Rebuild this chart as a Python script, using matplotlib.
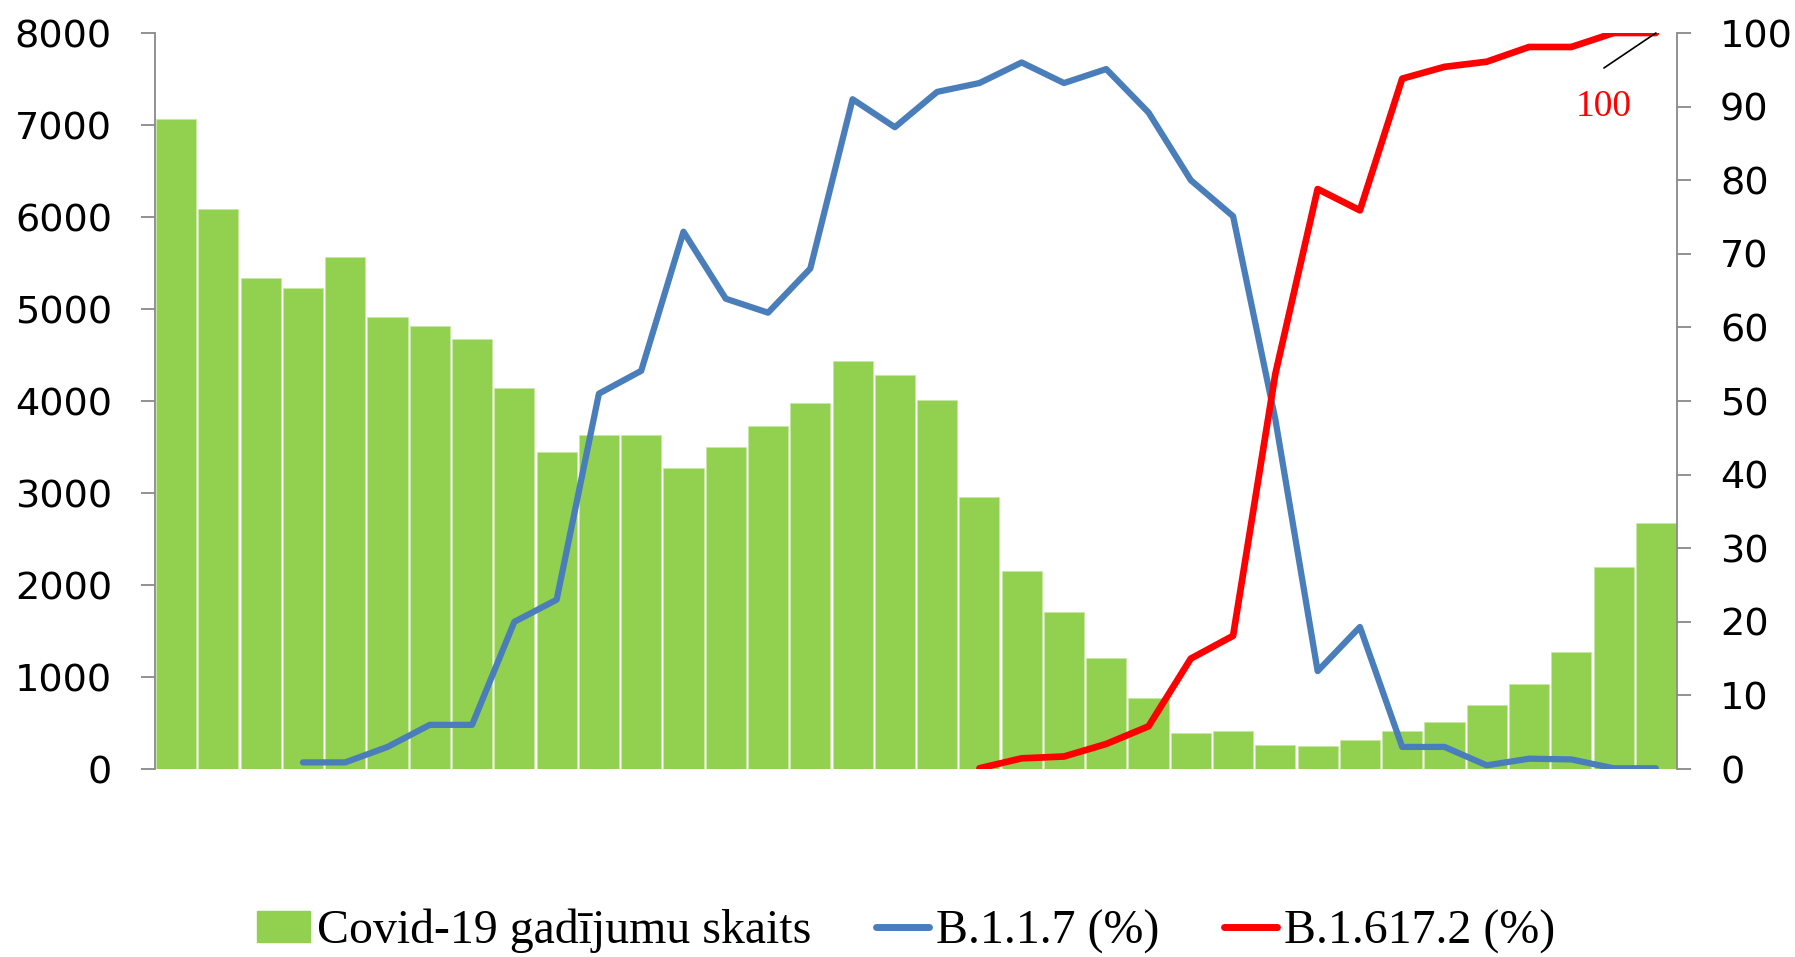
import numpy as np
import matplotlib
matplotlib.use('Agg')
import matplotlib.pyplot as plt
from matplotlib.patches import Patch
from matplotlib.lines import Line2D

nan = np.nan

# weekly Covid-19 cases (left axis)
cases = [7070, 6090, 5340, 5230, 5560, 4910, 4810, 4670, 4140, 3450,
         3630, 3630, 3270, 3500, 3730, 3980, 4430, 4280, 4010, 2960,
         2150, 1710, 1210, 770, 390, 410, 260, 250, 320, 410,
         510, 700, 920, 1270, 2200, 2670]

# variant shares in % (right axis)
b117 = [nan, nan, nan, 0.9, 0.9, 3.0, 6.0, 6.0, 20.0, 23.0,
        51.0, 54.1, 73.0, 63.9, 62.0, 68.0, 91.0, 87.2, 92.0, 93.2,
        96.0, 93.2, 95.1, 89.2, 80.0, 75.1, 47.5, 13.3, 19.3, 3.0,
        3.0, 0.5, 1.4, 1.3, 0.1, 0.1]
b16172 = [nan] * 19 + [0.1, 1.45, 1.7, 3.4, 5.8, 15.0, 18.1, 53.7, 78.8, 75.9,
                       93.8, 95.4, 96.1, 98.1, 98.1, 100.0, 100.0]

label_cases = 'Covid-19 gadījumu skaits'
label_b117 = 'B.1.1.7 (%)'
label_b16172 = 'B.1.617.2 (%)'

green = '#92D050'
blue = '#4A7EBB'
red = '#FF0000'
grey = '#898989'
serif = ['Liberation Serif', 'DejaVu Serif']

x = np.arange(len(cases))

fig = plt.figure(figsize=(17.95, 9.57), dpi=100)
ax = fig.add_axes([155 / 1795, 188 / 957, 1522 / 1795, 736 / 957])

ax.bar(x, cases, width=0.95, color=green, edgecolor='#c8e6a4', linewidth=0.6, zorder=1)
ax.set_xlim(-0.5, len(cases) - 0.5)
ax.set_ylim(0, 8000)
ax.set_yticks(np.arange(0, 8001, 1000))
ax.set_xticks([])
for s in ['top', 'bottom', 'right']:
    ax.spines[s].set_visible(False)
ax.spines['left'].set_color(grey)
ax.spines['left'].set_linewidth(1.3)
ax.tick_params(axis='y', direction='out', length=10, width=1.3, color=grey,
               pad=21, labelsize=27.5)

ax2 = ax.twinx()
ax2.plot(x, b117, color=blue, lw=4.5, solid_capstyle='round', solid_joinstyle='round')
ax2.plot(x, b16172, color=red, lw=4.8, solid_capstyle='round', solid_joinstyle='round')
ax2.set_ylim(0, 100)
ax2.set_yticks(np.arange(0, 101, 10))
for s in ['top', 'bottom', 'left']:
    ax2.spines[s].set_visible(False)
ax2.spines['right'].set_color(grey)
ax2.spines['right'].set_linewidth(1.3)
ax2.tick_params(axis='y', direction='out', length=10, width=1.3, color=grey,
                pad=21, labelsize=27.5)

# data label on the last point of B.1.617.2
ax2.annotate('', xy=(x[-1], b16172[-1]), xytext=(-37.4, -25.2), textcoords='offset points',
             arrowprops=dict(arrowstyle='-', color='black', lw=1.2, shrinkA=0, shrinkB=0),
             annotation_clip=False)
ax2.annotate(f'{b16172[-1]:.0f}', xy=(x[-1], b16172[-1]), xytext=(-37.4, -53.3),
             textcoords='offset points', ha='center', va='center', color=red,
             fontsize=27, family=serif, annotation_clip=False)

handles = [Patch(facecolor=green, edgecolor=green),
           Line2D([], [], color=blue, lw=5, solid_capstyle='round'),
           Line2D([], [], color=red, lw=5, solid_capstyle='round')]
fig.legend(handles, [label_cases, label_b117, label_b16172], loc='center',
           bbox_to_anchor=(0.505, 0.027), ncol=3, frameon=False,
           prop={'family': serif, 'size': 34.5}, handlelength=1.1, handleheight=0.6,
           handletextpad=0.15, columnspacing=1.35, borderpad=0, borderaxespad=0)

fig.savefig('out.png', dpi=100)
